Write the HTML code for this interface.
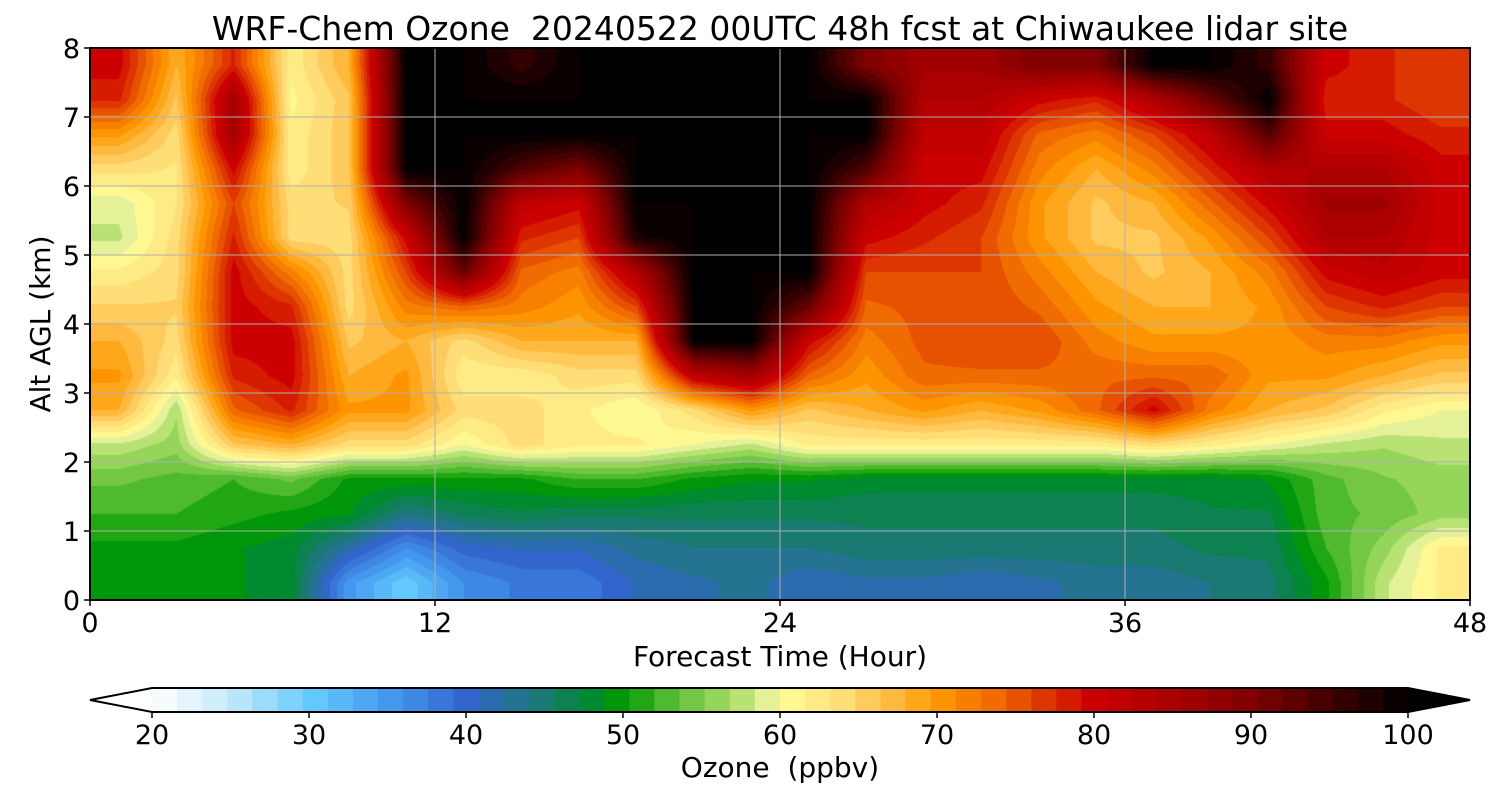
<!DOCTYPE html>
<html><head><meta charset="utf-8"><style>
body{margin:0;background:#fff;width:1500px;height:800px;overflow:hidden;font-family:"DejaVu Sans","Liberation Sans",sans-serif;}
#wrap{position:relative;width:1500px;height:800px;}
canvas{position:absolute;left:90px;top:48px;}
svg{position:absolute;left:0;top:0;font-family:"DejaVu Sans","Liberation Sans",sans-serif;}
text{white-space:pre;}
</style></head><body>
<div id="wrap">
<canvas id="hm" width="1380" height="552"></canvas>
<svg id="ov" width="1500" height="800"></svg>
</div>
<script>
// forecast hour column centers
const hours = [1,3,5,7,9,11,13,15,17,19,21,23,25,27,29,31,33,35,37,39,41,43,45,47];
// altitude row centers (km)
const alts = [0.25,0.75,1.25,1.75,2.25,2.75,3.25,3.75,4.25,4.75,5.25,5.75,6.25,6.75,7.25,7.75];
// ozone ppbv per hour column (bottom -> top)
const ozone = [
[50,50,52,54,58,68,70,68,65,62,58,59,64,70,78,80],
[49,50,52,53,56,57,62,64,65,64,64,63,63,64,66,68],
[49,49,51,52,66,74,78,80,80,80,78,76,80,86,86,78],
[48,48,50,54,68,78,80,80,78,72,64,64,62,62,61,62],
[35,42,49,50,64,70,68,66,64,64,64,65,66,66,66,68],
[30,36,44,50,64,70,70,68,72,76,80,90,100,100,100,100],
[36,40,46,50,60,64,62,64,74,92,100,100,100,100,100,100],
[38,41,47,50,64,64,62,68,72,74,78,82,94,100,100,96],
[38,41,46,52,62,62,64,68,70,72,76,80,90,100,100,100],
[41,43,46,52,62,60,64,68,76,84,98,100,100,100,100,100],
[42,44,46,50,60,64,82,100,100,100,100,100,100,100,100,100],
[43,44,46,49,58,70,86,100,100,100,100,100,100,100,100,100],
[41,44,46,49,62,66,74,80,92,100,100,100,100,100,100,100],
[42,45,46,48,62,68,70,72,74,76,80,84,94,100,100,90],
[42,45,46,48,62,70,74,75,75,76,78,80,80,82,84,86],
[41,45,46,48,62,68,74,76,76,76,76,78,80,82,84,86],
[42,45,46,48,62,70,74,76,74,72,70,70,72,74,80,90],
[43,45,46,48,62,74,74,72,70,68,66,66,68,72,78,90],
[43,45,46,48,64,80,74,70,68,66,66,68,72,76,84,100],
[44,46,47,48,62,72,74,70,68,68,70,74,78,82,92,100],
[45,46,47,49,60,68,70,70,70,72,76,80,84,94,100,96],
[50,52,53,53,58,66,70,72,76,80,84,86,84,80,78,80],
[58,56,54,55,57,62,68,72,78,82,84,86,84,80,78,78],
[62,62,56,56,58,60,66,70,76,80,80,80,80,78,76,76]
];
const xTicks = [0,12,24,36,48];
const yTicks = [0,1,2,3,4,5,6,7,8];
const cbTicks = [20,30,40,50,60,70,80,90,100];

const stops=[[20,'#ffffff'],[25,'#c4e8fa'],[30,'#66ccff'],[35,'#4499ee'],[40,'#3366cc'],[45,'#1a7a70'],[48,'#008a30'],[50,'#009900'],[53,'#55bb33'],[57,'#aadd66'],[59,'#ddee99'],[60,'#ffff99'],[64,'#ffdd77'],[67,'#ffbb44'],[70,'#ff9900'],[74,'#ee6600'],[77,'#dd3300'],[80,'#cc0000'],[85,'#aa0000'],[90,'#800000'],[95,'#400000'],[100,'#000000']];
function hex(c){return [parseInt(c.substr(1,2),16),parseInt(c.substr(3,2),16),parseInt(c.substr(5,2),16)];}
function cmap(v){
  if(v<=stops[0][0])return hex(stops[0][1]);
  for(let i=1;i<stops.length;i++){if(v<=stops[i][0]){const a=stops[i-1],b=stops[i];const t=(v-a[0])/(b[0]-a[0]);const ca=hex(a[1]),cb=hex(b[1]);return ca.map((x,k)=>Math.round(x+(cb[k]-x)*t));}}
  return hex(stops[stops.length-1][1]);
}
const X0=90,X1=1470,Y0=600,Y1=48;
const xs=h=>X0+(h/48)*(X1-X0);
const ys=a=>Y0-(a/8)*(Y0-Y1);
const STEP=1.6;
function quant(v){return 20+Math.floor((v-20)/STEP)*STEP+STEP/2;}
function idx(arr,v){
  if(v<=arr[0])return 0; if(v>=arr[arr.length-1])return arr.length-1;
  for(let i=0;i<arr.length-1;i++)if(v<=arr[i+1])return i+(v-arr[i])/(arr[i+1]-arr[i]);
}
const cv=document.getElementById('hm'),ctx=cv.getContext('2d');
const img=ctx.createImageData(cv.width,cv.height);
for(let py=0;py<cv.height;py++){
  const a=(Y0-(py+Y1+0.5))/(Y0-Y1)*8;
  const fi=idx(alts,a);const i0=Math.floor(fi),i1=Math.min(i0+1,alts.length-1),ti=fi-i0;
  for(let px=0;px<cv.width;px++){
    const h=(px+0.5)/(X1-X0)*48;
    const fj=idx(hours,h);const j0=Math.floor(fj),j1=Math.min(j0+1,hours.length-1),tj=fj-j0;
    const v=(ozone[j0][i0]*(1-tj)+ozone[j1][i0]*tj)*(1-ti)+(ozone[j0][i1]*(1-tj)+ozone[j1][i1]*tj)*ti;
    const c=cmap(Math.min(100,Math.max(20,quant(v))));
    const o=(py*cv.width+px)*4;img.data[o]=c[0];img.data[o+1]=c[1];img.data[o+2]=c[2];img.data[o+3]=255;
  }
}
ctx.putImageData(img,0,0);

const svg=document.getElementById('ov');const NS='http://www.w3.org/2000/svg';
function el(t,at,txt){const e=document.createElementNS(NS,t);for(const k in at)e.setAttribute(k,at[k]);if(txt!==undefined)e.textContent=txt;svg.appendChild(e);return e;}
xTicks.slice(1,-1).forEach(h=>{const e=el('line',{x1:xs(h),x2:xs(h),y1:Y1,y2:Y0,stroke:'#b0b0b0','stroke-width':1});

});
yTicks.slice(1,-1).forEach(a=>{const e=el('line',{x1:X0,x2:X1,y1:ys(a),y2:ys(a),stroke:'#b0b0b0','stroke-width':1});

});
let f=el('rect',{x:X0,y:Y1,width:X1-X0,height:Y0-Y1,fill:'none',stroke:'#000','stroke-width':2});


xTicks.forEach(h=>{el('line',{x1:xs(h),x2:xs(h),y1:Y0,y2:Y0+6,stroke:'#000','stroke-width':1.5});
const t=el('text',{x:xs(h),y:Y0+32,'text-anchor':'middle','font-size':27},String(h));

});
yTicks.forEach(a=>{el('line',{x1:X0-6,x2:X0,y1:ys(a),y2:ys(a),stroke:'#000','stroke-width':1.5});
const t=el('text',{x:X0-10,y:ys(a)+10,'text-anchor':'end','font-size':27},String(a));

});
let t=el('text',{x:780,y:40,'text-anchor':'middle','font-size':33},'WRF-Chem Ozone  20240522 00UTC 48h fcst at Chiwaukee lidar site');

t=el('text',{x:780,y:666,'text-anchor':'middle','font-size':28},'Forecast Time (Hour)');

t=el('text',{x:50,y:324,'text-anchor':'middle','font-size':28,transform:'rotate(-90 50 324)'},'Alt AGL (km)');

const C0=152,C1=1408,CT=688,CB=712;
const cx=v=>C0+(v-20)/80*(C1-C0);
let tri=el('polygon',{points:`${C0},${CT} ${C0},${CB} 90,700`,fill:'#fff',stroke:'none'});

tri=el('polygon',{points:`${C1},${CT} ${C1},${CB} 1470,700`,fill:'#000'});

for(let v=20;v<100-1e-6;v+=STEP){const c=cmap(v+STEP/2);
const r=el('rect',{x:cx(v),y:CT,width:cx(v+STEP)-cx(v)+0.5,height:CB-CT,fill:`rgb(${c})`});
}
let o=el('polygon',{points:`90,700 ${C0},${CT} ${C1},${CT} 1470,700 ${C1},${CB} ${C0},${CB}`,fill:'none',stroke:'#000','stroke-width':2});

cbTicks.forEach(v=>{el('line',{x1:cx(v),x2:cx(v),y1:CB,y2:CB+6,stroke:'#000','stroke-width':1.5});
const tt=el('text',{x:cx(v),y:CB+32,'text-anchor':'middle','font-size':27},String(v));
});
t=el('text',{x:780,y:777,'text-anchor':'middle','font-size':28},'Ozone  (ppbv)');

</script>
</body></html>
